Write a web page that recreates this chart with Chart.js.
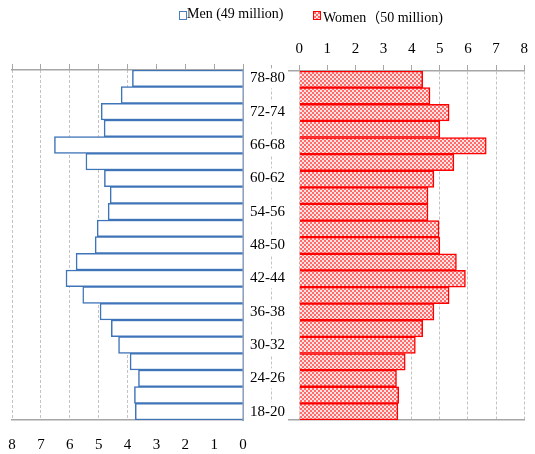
<!DOCTYPE html>
<html>
<head>
<meta charset="utf-8">
<script src="https://cdn.jsdelivr.net/npm/chart.js@4.4.0/dist/chart.umd.min.js"></script>
<style>
  html, body { margin: 0; padding: 0; background: #fff; }
  #wrap { position: relative; width: 535px; height: 454px; overflow: hidden; background: #fff; }
  #wrap canvas { position: absolute; left: 0; top: 0; }
  #cWomen { z-index: 1; }
  #cMen { z-index: 2; }
  .key { position: absolute; top: 6px; height: 20px; line-height: 20px; z-index: 3;
         font: 14px 'Liberation Serif', 'Times New Roman', 'Noto Sans CJK SC', serif; color: #000; white-space: nowrap; }
  .swatch { position: absolute; top: 11px; width: 6px; height: 7px; z-index: 3; }
  #swMen { left: 179px; border: 1px solid #4a7ebb; background: #fff; }
  #swWomen { left: 313px; border: 1px solid #ff0000; }
</style>
</head>
<body>
<div id="wrap">
  <div class="swatch" id="swMen"></div>
  <div class="key" id="keyMen" style="left:187px"></div>
  <div class="swatch" id="swWomen"></div>
  <div class="key" id="keyWomen" style="left:323px"></div>
  <canvas id="cWomen" width="535" height="454"></canvas>
  <canvas id="cMen" width="535" height="454"></canvas>
</div>
<script>
// Age groups, top of the pyramid first
const ageGroups = ['78-80', '75-77', '72-74', '69-71', '66-68', '63-65', '60-62',
                   '57-59', '54-56', '51-53', '48-50', '45-47', '42-44', '39-41',
                   '36-38', '33-35', '30-32', '27-29', '24-26', '21-23', '18-20'];

// Share of each sex in every age group (%)
const menShare = [3.83, 4.22, 4.91, 4.81, 6.53, 5.44, 4.80, 4.60, 4.67, 5.05, 5.12,
                  5.78, 6.13, 5.55, 4.95, 4.56, 4.31, 3.91, 3.62, 3.76, 3.73];
const womenShare = [4.39, 4.65, 5.33, 5.00, 6.65, 5.50, 4.79, 4.58, 4.58, 4.97, 5.00,
                    5.59, 5.91, 5.33, 4.79, 4.39, 4.13, 3.77, 3.46, 3.54, 3.51];

// Series names and axis ticks
const seriesNames = ['Men (49 million)', 'Women\uFF0850 million)'];
const shareTicks = [0, 1, 2, 3, 4, 5, 6, 7, 8];

const SERIF = "'Liberation Serif', 'Times New Roman', serif";
const GRID_COLOR = '#c3c3c3';
const GRID_DASH = [3, 2];
const AXIS_GRAY = '#a6a6a6';

// Small red dotted fill used for the women's bars
function dotTile() {
  const c = document.createElement('canvas');
  c.width = 4; c.height = 4;
  const g = c.getContext('2d');
  g.fillStyle = '#ffe2e2'; g.fillRect(0, 0, 4, 4);
  g.fillStyle = '#ff6a6a'; g.fillRect(0, 0, 2, 2); g.fillRect(2, 2, 2, 2);
  return c;
}
const tile = dotTile();
const dotPattern = tile.getContext('2d').createPattern(tile, 'repeat');

// Legend
document.getElementById('keyMen').textContent = seriesNames[0];
document.getElementById('keyWomen').textContent = seriesNames[1];
document.getElementById('swWomen').style.background = 'url(' + tile.toDataURL() + ') repeat';

const tickFont = { family: SERIF, size: 15 };
const setShareTicks = extra => scale => {
  scale.ticks = extra.concat(shareTicks).map(v => ({ value: v }));
};

// Left half: men, growing leftwards from the centre
new Chart(document.getElementById('cMen'), {
  type: 'bar',
  data: {
    labels: ageGroups,
    datasets: [{
      label: seriesNames[0],
      data: menShare,
      backgroundColor: '#ffffff',
      borderColor: '#3f74b8',
      borderWidth: 1.5,
      borderSkipped: 'start',
      barPercentage: 1,
      categoryPercentage: 1
    }]
  },
  options: {
    indexAxis: 'y',
    responsive: false,
    animation: false,
    events: [],
    layout: { padding: { left: 12, right: 244, top: 64, bottom: 0 } },
    plugins: { legend: { display: false }, tooltip: { enabled: false } },
    scales: {
      x: {
        type: 'linear', position: 'bottom', reverse: true, min: 0, max: 8,
        afterBuildTicks: setShareTicks([]),
        ticks: { font: tickFont, color: '#000', padding: 16, maxRotation: 0 },
        grid: { color: GRID_COLOR, drawTicks: false },
        border: { display: true, color: AXIS_GRAY, width: 1.5, dash: GRID_DASH },
        afterFit: s => { s.height = 34; }
      },
      xTop: {
        type: 'linear', position: 'top', reverse: true, min: 0, max: 8,
        afterBuildTicks: setShareTicks([]),
        ticks: { display: false },
        grid: { drawOnChartArea: false, drawTicks: true, tickLength: 6, tickColor: AXIS_GRAY },
        border: { display: true, color: AXIS_GRAY, width: 1.5 },
        afterFit: s => { s.height = 6; }
      },
      y: {
        type: 'category', position: 'right',
        ticks: {
          autoSkip: false, font: tickFont, color: '#000', padding: 7, crossAlign: 'near',
          showLabelBackdrop: true, backdropColor: '#ffffff',
          backdropPadding: { top: 1, bottom: 1, left: 3, right: 3 },
          callback: (v, i) => (i % 2 === 0 ? ageGroups[i] : '')
        },
        grid: { drawOnChartArea: false, drawTicks: false },
        border: { display: true, color: '#8ea1bf', width: 2 },
        afterFit: s => { s.width = 48; }
      }
    }
  }
});

// Right half: women, growing rightwards
new Chart(document.getElementById('cWomen'), {
  type: 'bar',
  data: {
    labels: ageGroups,
    datasets: [{
      label: seriesNames[1],
      data: womenShare,
      backgroundColor: dotPattern,
      borderColor: '#ff0000',
      borderWidth: 1.5,
      borderSkipped: 'start',
      barPercentage: 1,
      categoryPercentage: 1
    }]
  },
  options: {
    indexAxis: 'y',
    responsive: false,
    animation: false,
    events: [],
    layout: { padding: { left: 271, right: 3, top: 39, bottom: 34 } },
    plugins: { legend: { display: false }, tooltip: { enabled: false } },
    scales: {
      x: {
        type: 'linear', position: 'top', min: -1, max: 8,
        afterBuildTicks: setShareTicks([-1]),
        ticks: { font: tickFont, color: '#000', padding: 7, maxRotation: 0,
                 callback: v => (v < 0 ? '' : String(v)) },
        grid: { color: GRID_COLOR, drawTicks: true, tickLength: 6, tickColor: AXIS_GRAY },
        border: { display: true, color: AXIS_GRAY, width: 1.5, dash: GRID_DASH },
        afterFit: s => { s.height = 32; }
      },
      xBottom: {
        type: 'linear', position: 'bottom', min: -1, max: 8,
        ticks: { display: false },
        grid: { drawOnChartArea: false, drawTicks: false },
        border: { display: true, color: AXIS_GRAY, width: 1.5 },
        afterFit: s => { s.height = 0; }
      },
      y: { type: 'category', display: false }
    }
  }
});
</script>
</body>
</html>
